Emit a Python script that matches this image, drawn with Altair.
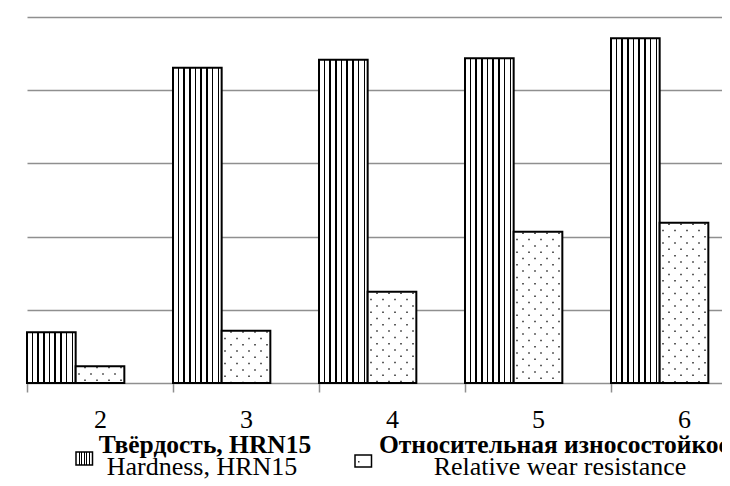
import altair as alt
import pandas as pd

# ---- data ----
categories = ["2", "3", "4", "5", "6"]
hardness = [13.9, 86.1, 88.3, 88.7, 94.2]      # Твёрдость, HRN15 (grid step = 20)
wear = [4.6, 14.3, 24.9, 41.3, 43.8]           # Относительная износостойкость
series_order = ["Hardness", "Wear", "_gap"]

df = pd.DataFrame({
    "cat": categories * 2,
    "series": ["Hardness"] * len(categories) + ["Wear"] * len(categories),
    "value": hardness + wear,
})

SERIF = "Liberation Serif, Times New Roman, DejaVu Serif, serif"
GRID = "#8f8f8f"


def stripes(centers, w):
    stops = [alt.GradientStop(color="white", offset=0.0)]
    for c in centers:
        stops += [
            alt.GradientStop(color="white", offset=c - w / 2),
            alt.GradientStop(color="black", offset=c - w / 2),
            alt.GradientStop(color="black", offset=c + w / 2),
            alt.GradientStop(color="white", offset=c + w / 2),
        ]
    stops.append(alt.GradientStop(color="white", offset=1.0))
    return alt.LinearGradient(gradient="linear", stops=stops, x1=0, x2=1, y1=0, y2=0)


bar_stripes = stripes([0.112 + 0.117 * i for i in range(8)], 0.03)
sym_stripes = stripes([0.2, 0.35, 0.5, 0.65, 0.8], 0.08)

x_scale = alt.Scale(range=[19, 749], paddingInner=0, paddingOuter=0)
x_axis = alt.Axis(
    title=None, labelAngle=0, labelFont=SERIF, labelFontSize=26,
    labelColor="black", labelBaseline="alphabetic", labelPadding=35,
    tickBand="extent", tickSize=9, tickColor=GRID, tickWidth=1.5,
    domain=False, grid=False,
)
x_enc = alt.X("cat:N", sort=categories, scale=x_scale, axis=x_axis)
xo_enc = alt.XOffset(
    "series:N",
    scale=alt.Scale(domain=series_order, paddingInner=0, paddingOuter=0),
)
y_enc = alt.Y(
    "value:Q",
    scale=alt.Scale(domain=[0, 100], nice=False),
    axis=alt.Axis(
        title=None, labels=False, ticks=False, domain=False,
        values=[0, 20, 40, 60, 80, 100], grid=True, gridColor=GRID, gridWidth=1.5,
    ),
)

base = alt.Chart(df)
wear_only = base.transform_filter(alt.datum.series == "Wear")

hard_bars = base.transform_filter(alt.datum.series == "Hardness").mark_bar(
    fill=bar_stripes, stroke="black", strokeWidth=2
).encode(x=x_enc, xOffset=xo_enc, y=y_enc)

wear_fill = wear_only.mark_bar(fill="white", strokeWidth=0).encode(
    x=x_enc, xOffset=xo_enc, y=y_enc
)

# dotted texture of the wear bars: the wear sub-band is centred on the category
dot_layers = []
for i in range(8):
    dot_layers.append(
        wear_only.mark_rule(
            color="#2a2a2a", strokeWidth=1.5, strokeDash=[1.5, 11.1],
            strokeDashOffset=5.6 if i % 2 == 0 else 11.9, xOffset=-21 + 6 * i,
        ).encode(x=x_enc, y=y_enc, y2=alt.datum(0))
    )

wear_outline = wear_only.mark_bar(
    fillOpacity=0, stroke="black", strokeWidth=2
).encode(x=x_enc, xOffset=xo_enc, y=y_enc)

one = alt.Chart(pd.DataFrame({"k": [0]}))

sym_hard = one.mark_rect(fill=sym_stripes, stroke="black", strokeWidth=1.5).encode(
    x=alt.value(68), x2=alt.value(84.5), y=alt.value(435), y2=alt.value(448)
)
sym_wear = one.mark_rect(fill="white", stroke="black", strokeWidth=1.5).encode(
    x=alt.value(347), x2=alt.value(363.5), y=alt.value(438), y2=alt.value(450)
)
sym_wear_dot = one.mark_rect(fill="#333333").encode(
    x=alt.value(350), x2=alt.value(351.5), y=alt.value(444), y2=alt.value(445.5)
)


def label(txt, x, y, bold, align, size):
    return one.mark_text(
        font=SERIF, fontSize=size, fontWeight="bold" if bold else "normal",
        color="black", align=align, baseline="alphabetic",
    ).encode(x=alt.value(x), y=alt.value(y), text=alt.value(txt))


texts = [
    label("Твёрдость, HRN15", 197, 436, True, "center", 25.5),
    label("Hardness, HRN15", 194, 458, False, "center", 26),
    label("Относительная износостойкость", 371, 436, True, "left", 25.5),
    label("Relative wear resistance", 552, 458, False, "center", 26),
]

chart = alt.layer(
    hard_bars, wear_fill, *dot_layers, wear_outline,
    sym_hard, sym_wear, sym_wear_dot, *texts,
).properties(
    width=714, height=366,
    autosize=alt.AutoSizeParams(type="none"),
    padding={"left": 0, "right": 0, "top": 9, "bottom": 103},
    background="white",
).configure_view(strokeWidth=0)

chart.save("out.html", embed_options={"renderer": "svg", "actions": False})
